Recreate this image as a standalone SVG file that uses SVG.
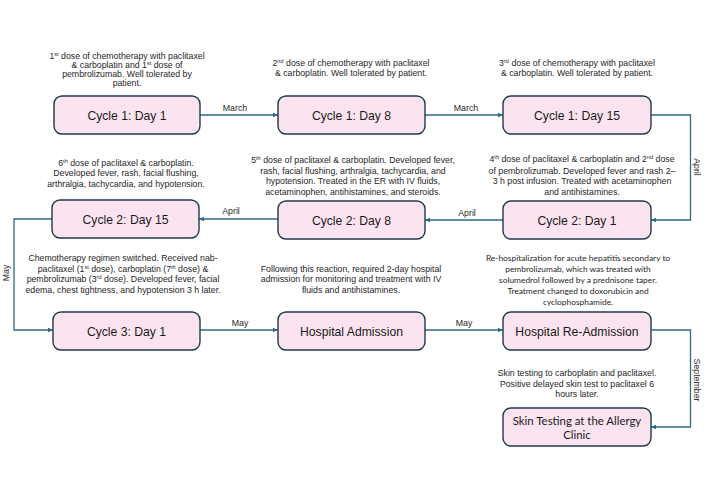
<svg xmlns="http://www.w3.org/2000/svg" width="706" height="497" viewBox="0 0 706 497">
<style>
.box{fill:#fbe4ef;stroke:#1e3a4c;stroke-width:1.4}
.lbl{font-family:"Liberation Sans",Arial,sans-serif;font-size:12.2px;fill:#1a1a1a;text-anchor:middle}
.lblc{font-family:Lato,"Liberation Sans",sans-serif;font-size:11.4px;fill:#1a1a1a;text-anchor:middle}
.d{font-family:"Liberation Sans",Arial,sans-serif;font-size:8.75px;fill:#262626;text-anchor:middle}
.dc{font-family:Lato,"Liberation Sans",sans-serif;font-size:8.4px;fill:#262626;text-anchor:middle}
.sup{font-size:5.6px}
.c{fill:none;stroke:#2e6a88;stroke-width:1.3}
.cl{font-family:"Liberation Sans",Arial,sans-serif;font-size:8.8px;fill:#2a2a2a;text-anchor:middle}
</style>
<defs>
<marker id="ah" markerWidth="6" markerHeight="6" refX="5" refY="3" orient="auto" markerUnits="userSpaceOnUse">
<path d="M0,0.8 L5,3 L0,5.2 Z" fill="#2e6a88"/>
</marker>
</defs>
<rect width="706" height="497" fill="#fff"/>
<g id="connectors">
<path class="c" d="M200,115 H278" marker-end="url(#ah)"/>
<path class="c" d="M425,115 H503" marker-end="url(#ah)"/>
<path class="c" d="M651,115 H690.5 V220 H651" marker-end="url(#ah)"/>
<path class="c" d="M503,220 H425" marker-end="url(#ah)"/>
<path class="c" d="M278,219 H199" marker-end="url(#ah)"/>
<path class="c" d="M52,219 H14 V330 H53" marker-end="url(#ah)"/>
<path class="c" d="M200,330 H278" marker-end="url(#ah)"/>
<path class="c" d="M425,330 H503" marker-end="url(#ah)"/>
<path class="c" d="M651,330 H690.5 V427 H651" marker-end="url(#ah)"/>
<text class="cl" x="235" y="111">March</text>
<text class="cl" x="466" y="111">March</text>
<text class="cl" transform="translate(694,167) rotate(90)">April</text>
<text class="cl" x="467" y="216">April</text>
<text class="cl" x="231" y="214">April</text>
<text class="cl" transform="translate(9,273) rotate(-90)">May</text>
<text class="cl" x="240" y="326">May</text>
<text class="cl" x="464" y="326">May</text>
<text class="cl" transform="translate(694,380) rotate(90)">September</text>
</g>
<g id="c1d1">
<text class="d" x="127" y="58.7">1<tspan class="sup" dy="-3">st</tspan><tspan dy="3"> dose of chemotherapy with paclitaxel</tspan></text>
<text class="d" x="127" y="68">&amp; carboplatin and 1<tspan class="sup" dy="-3">st</tspan><tspan dy="3"> dose of</tspan></text>
<text class="d" x="127" y="77.3">pembrolizumab. Well tolerated by</text>
<text class="d" x="127" y="86.3">patient.</text>
<rect class="box" x="54" y="96" width="146" height="38" rx="8"/>
<text class="lbl" x="127" y="119.5">Cycle 1: Day 1</text>
</g>
<g id="c1d8">
<text class="d" x="351" y="66.3">2<tspan class="sup" dy="-3">nd</tspan><tspan dy="3"> dose of chemotherapy with paclitaxel</tspan></text>
<text class="d" x="351" y="76.3">&amp; carboplatin. Well tolerated by patient.</text>
<rect class="box" x="278" y="96" width="147" height="38" rx="8"/>
<text class="lbl" x="351.5" y="119.5">Cycle 1: Day 8</text>
</g>
<g id="c1d15">
<text class="d" x="577" y="66.3">3<tspan class="sup" dy="-3">rd</tspan><tspan dy="3"> dose of chemotherapy with paclitaxel</tspan></text>
<text class="d" x="577" y="76.3">&amp; carboplatin. Well tolerated by patient.</text>
<rect class="box" x="503" y="96" width="148" height="38" rx="8"/>
<text class="lbl" x="577" y="119.5">Cycle 1: Day 15</text>
</g>
<g id="c2d15">
<text class="d" x="126" y="166">6<tspan class="sup" dy="-3">th</tspan><tspan dy="3"> dose of paclitaxel &amp; carboplatin.</tspan></text>
<text class="d" x="126" y="176.3">Developed fever, rash, facial flushing,</text>
<text class="d" x="126" y="187">arthralgia, tachycardia, and hypotension.</text>
<rect class="box" x="52" y="200" width="147" height="38" rx="8"/>
<text class="lbl" x="125.5" y="223.5">Cycle 2: Day 15</text>
</g>
<g id="c2d8">
<text class="d" x="353" y="163">5<tspan class="sup" dy="-3">th</tspan><tspan dy="3"> dose of paclitaxel &amp; carboplatin. Developed fever,</tspan></text>
<text class="d" x="353" y="173.7">rash, facial flushing, arthralgia, tachycardia, and</text>
<text class="d" x="353" y="184.3">hypotension. Treated in the ER with IV fluids,</text>
<text class="d" x="353" y="195">acetaminophen, antihistamines, and steroids.</text>
<rect class="box" x="278" y="201" width="147" height="38" rx="8"/>
<text class="lbl" x="351.5" y="224.5">Cycle 2: Day 8</text>
</g>
<g id="c2d1">
<text class="d" x="582" y="162.3">4<tspan class="sup" dy="-3">th</tspan><tspan dy="3">  dose of paclitaxel &amp; carboplatin and 2</tspan><tspan class="sup" dy="-3">nd</tspan><tspan dy="3"> dose</tspan></text>
<text class="d" x="582" y="173.7">of pembrolizumab. Developed fever and rash 2–</text>
<text class="d" x="582" y="184.3">3 h post infusion. Treated with acetaminophen</text>
<text class="d" x="582" y="195">and antihistamines.</text>
<rect class="box" x="503" y="201" width="148" height="38" rx="8"/>
<text class="lbl" x="577" y="224.5">Cycle 2: Day 1</text>
</g>
<g id="c3d1">
<text class="d" x="123" y="261">Chemotherapy regimen switched. Received nab-</text>
<text class="d" x="123" y="271.7">paclitaxel (1<tspan class="sup" dy="-3">st</tspan><tspan dy="3"> dose), carboplatin (7</tspan><tspan class="sup" dy="-3">th</tspan><tspan dy="3"> dose) &amp;</tspan></text>
<text class="d" x="123" y="282.3">pembrolizumab (3<tspan class="sup" dy="-3">rd</tspan><tspan dy="3"> dose). Developed fever, facial</tspan></text>
<text class="d" x="123" y="293">edema, chest tightness, and hypotension 3 h later.</text>
<rect class="box" x="53" y="312" width="147" height="38" rx="8"/>
<text class="lbl" x="126.5" y="335.5">Cycle 3: Day 1</text>
</g>
<g id="hosp">
<text class="d" x="351" y="272">Following this reaction, required 2-day hospital</text>
<text class="d" x="351" y="282.3">admission for monitoring and treatment with IV</text>
<text class="d" x="351" y="293">fluids and antihistamines.</text>
<rect class="box" x="278" y="312" width="147" height="38" rx="8"/>
<text class="lbl" x="351.5" y="335.5">Hospital Admission</text>
</g>
<g id="rehosp">
<text class="dc" x="578" y="261">Re-hospitalization for acute hepatitis secondary to</text>
<text class="dc" x="578" y="272">pembrolizumab, which was treated with</text>
<text class="dc" x="578" y="283">solumedrol followed by a prednisone taper.</text>
<text class="dc" x="578" y="294">Treatment changed to doxorubicin and</text>
<text class="dc" x="578" y="305">cyclophosphamide.</text>
<rect class="box" x="503" y="312" width="148" height="38" rx="8"/>
<text class="lbl" x="577" y="335.5">Hospital Re-Admission</text>
</g>
<g id="skin">
<text class="d" x="577" y="376">Skin testing to carboplatin and paclitaxel.</text>
<text class="d" x="577" y="386.7">Positive delayed skin test to paclitaxel 6</text>
<text class="d" x="577" y="397.3">hours later.</text>
<rect class="box" x="503" y="408" width="148" height="38" rx="8"/>
<text class="lblc" x="577" y="425">Skin Testing at the Allergy</text>
<text class="lblc" x="577" y="439">Clinic</text>
</g>
</svg>
